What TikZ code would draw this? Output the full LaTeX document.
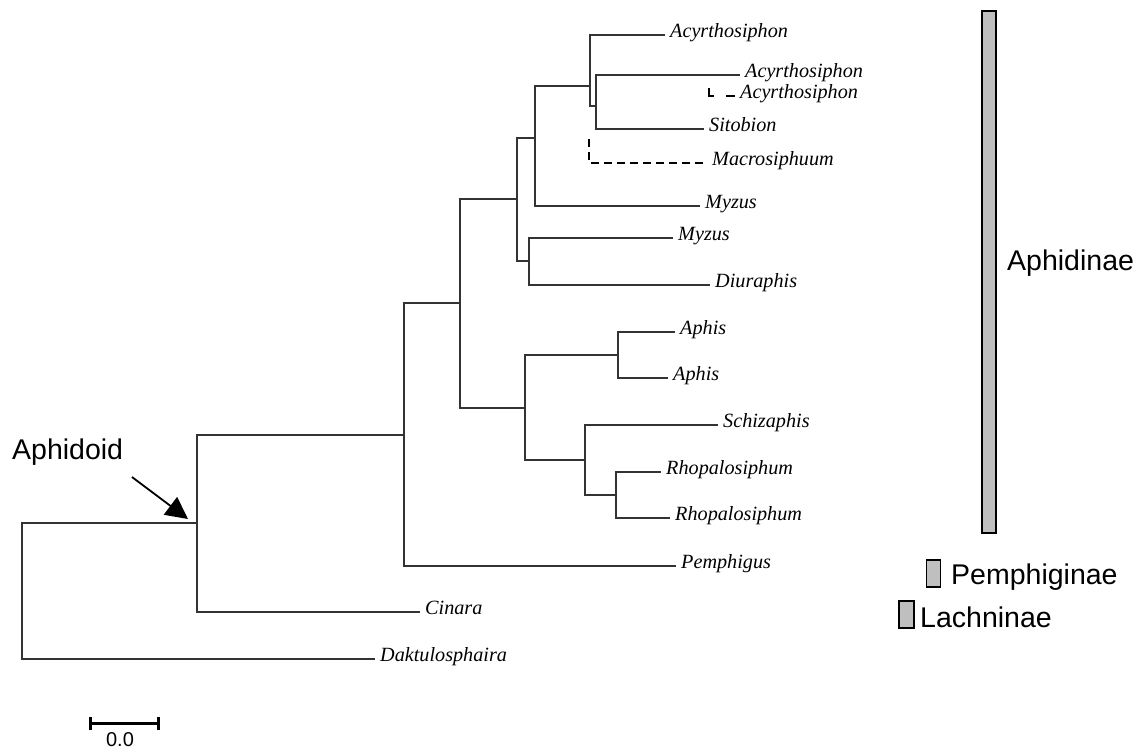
\documentclass[tikz,border=0pt]{standalone}
\usepackage{fontspec}
\setmainfont{Liberation Serif}
\setsansfont{Liberation Sans}
\usetikzlibrary{arrows.meta,positioning}
\begin{document}
\begin{tikzpicture}[x=1pt,y=-1pt]

\tikzset{
  br/.style      = {line width=1.3pt, draw=black!80},
  dsh/.style     = {line width=1.6pt, draw=black, dash pattern=on 8pt off 5pt},
  leaf/.style    = {anchor=west, inner xsep=5pt, inner ysep=0pt, text height=11pt,
                    text depth=6pt, font=\fontsize{20.2}{23}\selectfont\itshape},
  grp/.style     = {anchor=base west, inner sep=0pt, font=\sffamily\fontsize{28.5}{32}\selectfont},
  bar/.style     = {draw, line width=1.5pt, fill=black!25, inner sep=0pt, minimum width=14pt},
  pointer/.style = {-{Triangle[length=22pt,width=22pt]}, line width=1.8pt},
  scl/.style     = {{Bar[width=13pt]}-{Bar[width=13pt]}, line width=3pt},
}

\useasboundingbox (0,0) rectangle (1140,750);

\coordinate (root) at (22,591);
\coordinate (aphd) at (197,523);
\coordinate (crown) at (404,435);
\coordinate (aphn) at (460,303);
\coordinate (macro) at (517,199);
\coordinate (acyg) at (535,138);
\coordinate (acyr) at (590,86);
\coordinate (acyb) at (596,106);
\coordinate (myzd) at (529,261);
\coordinate (aphs) at (525,408);
\coordinate (aphp) at (618,355);
\coordinate (rhog) at (585,460);
\coordinate (rhop) at (616,495);
\coordinate (mac0) at (589,134);
\coordinate (acy0) at (709,88);

\node[leaf] (acy1) at (665,35) {Acyrthosiphon};
\node[leaf] (acy2) at (740,75) {Acyrthosiphon};
\node[leaf] (acy3) at (735,96) {Acyrthosiphon};
\node[leaf] (sit) at (704,129) {Sitobion};
\node[leaf] (mac) at (707,163) {Macrosiphuum};
\node[leaf] (myz1) at (700,206) {Myzus};
\node[leaf] (myz2) at (673,238) {Myzus};
\node[leaf] (diu) at (710,285) {Diuraphis};
\node[leaf] (aph1) at (675,332) {Aphis};
\node[leaf] (aph2) at (668,378) {Aphis};
\node[leaf] (sch) at (718,425) {Schizaphis};
\node[leaf] (rho1) at (661,472) {Rhopalosiphum};
\node[leaf] (rho2) at (670,518) {Rhopalosiphum};
\node[leaf] (pem) at (676,566) {Pemphigus};
\node[leaf] (cin) at (420,612) {Cinara};
\node[leaf] (dak) at (375,659) {Daktulosphaira};

\draw[br] (root) |- (aphd);
\draw[br] (root) |- (dak.west);
\draw[br] (aphd) |- (crown);
\draw[br] (aphd) |- (cin.west);
\draw[br] (crown) |- (aphn);
\draw[br] (crown) |- (pem.west);
\draw[br] (aphn) |- (macro);
\draw[br] (aphn) |- (aphs);
\draw[br] (macro) |- (acyg);
\draw[br] (macro) |- (myzd);
\draw[br] (acyg) |- (acyr);
\draw[br] (acyg) |- (myz1.west);
\draw[br] (acyr) |- (acy1.west);
\draw[br] (acyr) |- (acyb);
\draw[br] (acyb) |- (acy2.west);
\draw[br] (acyb) |- (sit.west);
\draw[br] (myzd) |- (myz2.west);
\draw[br] (myzd) |- (diu.west);
\draw[br] (aphs) |- (aphp);
\draw[br] (aphs) |- (rhog);
\draw[br] (aphp) |- (aph1.west);
\draw[br] (aphp) |- (aph2.west);
\draw[br] (rhog) |- (sch.west);
\draw[br] (rhog) |- (rhop);
\draw[br] (rhop) |- (rho1.west);
\draw[br] (rhop) |- (rho2.west);
\draw[dsh, dash phase=8pt] (mac0) |- (mac.west);
\draw[dsh, dash pattern=on 13pt off 12pt] (acy0) |- (acy3.west);

\node[bar, minimum height=522pt] (aphbar) at (989,272) {};
\node[bar, minimum height=27pt] (pembar) at (933.5,573.5) {};
\node[bar, minimum height=27pt, minimum width=15pt] (lacbar) at (906.5,614.5) {};
\node[grp] (aphlbl) at (1007,270) {Aphidinae};
\node[grp] (pemlbl) at (951,584) {Pemphiginae};
\node[grp] (laclbl) at (920,627) {Lachninae};
\node[grp] (aphdlbl) at (12,459) {Aphidoid};

\coordinate (arrtail) at (132,477);
\coordinate (arrtip) at (188,519);
\draw[pointer] (arrtail) -- (arrtip);

\coordinate (sbl) at (89,723);
\coordinate (sbr) at (160,723);
\draw[scl] (sbl) -- (sbr);
\node[anchor=base, inner sep=0pt, font=\sffamily\fontsize{20}{24}\selectfont] (sblbl) at (120,746.5) {0.0};
\end{tikzpicture}
\end{document}
